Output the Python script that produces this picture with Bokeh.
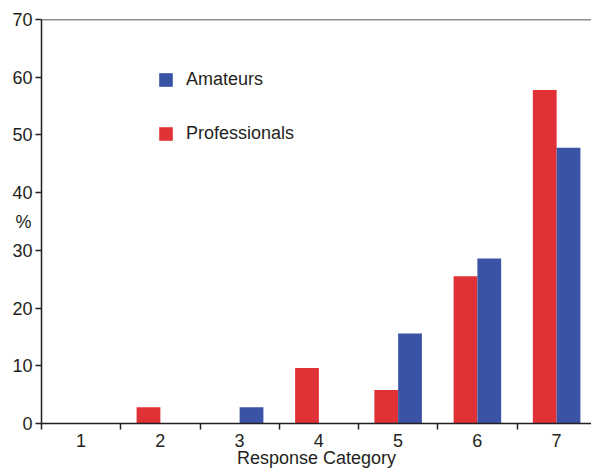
from bokeh.plotting import figure
from bokeh.models import (Range1d, FixedTicker, Span, Legend, LegendItem,
                          ColumnDataSource)
from bokeh.embed import file_html
from bokeh.resources import INLINE

categories = [1, 2, 3, 4, 5, 6, 7]
amateurs = [0, 0, 2.8, 0, 15.6, 28.6, 47.8]
professionals = [0, 2.8, 0, 9.6, 5.8, 25.5, 57.8]
y_ticks = [0, 10, 20, 30, 40, 50, 60, 70]

RED = "#e03236"
BLUE = "#3a53a4"
INK = "#231f20"
FONT = "Liberation Sans"

bw = 0.3
src = ColumnDataSource(dict(
    x_p=[c - bw / 2 for c in categories],
    x_a=[c + bw / 2 for c in categories],
    amateurs=amateurs,
    professionals=professionals,
))

p = figure(width=591, height=470, output_backend="svg", toolbar_location=None,
           x_range=Range1d(0.5, 7.44), y_range=Range1d(0, 70))
p.min_border_left = 41
p.min_border_right = 0
p.min_border_top = 19
p.min_border_bottom = 47
p.outline_line_color = None
p.grid.grid_line_color = None
p.background_fill_color = "white"
p.border_fill_color = "white"

rp = p.vbar(x="x_p", top="professionals", width=bw, source=src,
            fill_color=RED, line_color=None)
ra = p.vbar(x="x_a", top="amateurs", width=bw, source=src,
            fill_color=BLUE, line_color=None)

# top border line
p.add_layout(Span(location=70, dimension="width", line_color=INK, line_width=1.5))

# y axis
ya = p.yaxis[0]
ya.ticker = FixedTicker(ticks=y_ticks, minor_ticks=[])
ya.axis_line_color = INK
ya.axis_line_width = 1.5
ya.major_tick_line_color = INK
ya.major_tick_line_width = 1.5
ya.major_tick_in = 0
ya.major_tick_out = 6
ya.minor_tick_line_color = None
ya.major_label_text_font = FONT
ya.major_label_text_font_size = "18px"
ya.major_label_text_color = INK
ya.major_label_standoff = 3
ya.axis_label = "%"
ya.axis_label_orientation = "horizontal"
ya.axis_label_text_font = FONT
ya.axis_label_text_font_size = "18px"
ya.axis_label_text_font_style = "normal"
ya.axis_label_text_color = INK
ya.axis_label_standoff = -22

# x axis
xa = p.xaxis[0]
xa.ticker = FixedTicker(ticks=categories,
                        minor_ticks=[c - 0.5 for c in categories] + [7.5])
xa.axis_line_color = INK
xa.axis_line_width = 1.5
xa.major_tick_line_color = None
xa.major_tick_in = 0
xa.major_tick_out = 0
xa.minor_tick_line_color = INK
xa.minor_tick_line_width = 1.5
xa.minor_tick_in = 0
xa.minor_tick_out = 6
xa.major_label_text_font = FONT
xa.major_label_text_font_size = "18px"
xa.major_label_text_color = INK
xa.major_label_standoff = 4
xa.axis_label = "Response Category"
xa.axis_label_text_font = FONT
xa.axis_label_text_font_size = "18px"
xa.axis_label_text_font_style = "normal"
xa.axis_label_text_color = INK
xa.axis_label_standoff = -2

legend = Legend(items=[LegendItem(label="Amateurs", renderers=[ra]),
                       LegendItem(label="Professionals", renderers=[rp])],
                location=(116, 279))
legend.border_line_color = None
legend.background_fill_alpha = 0
legend.padding = 0
legend.margin = 0
legend.spacing = 33
legend.glyph_width = 17
legend.glyph_height = 17
legend.label_height = 16
legend.label_standoff = 12
legend.label_text_font = FONT
legend.label_text_font_size = "18px"
legend.label_text_color = INK
p.add_layout(legend)

open("out.html", "w").write(file_html(p, INLINE))
